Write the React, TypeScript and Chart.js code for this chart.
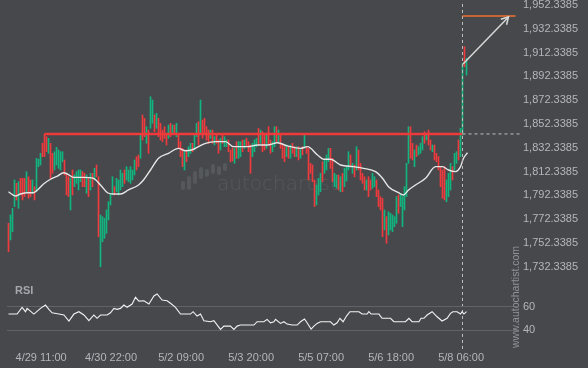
import { useEffect, useRef } from "react";
import { Chart, registerables } from "chart.js";
Chart.register(...registerables);

// ---- candle data (hourly), index 0..229 ----
const highs = [
  1768.9, 1775.9, 1781.5, 1805.3, 1802.5, 1803.9, 1806.7, 1806.7, 1806.7, 1812.3,
  1808.0, 1805.3, 1805.3, 1799.7, 1823.5, 1822.7, 1827.7, 1836.1, 1844.0, 1841.7,
  1840.3, 1836.1, 1827.7, 1829.1, 1832.8, 1830.5, 1829.1, 1829.1, 1822.1, 1810.9,
  1808.0, 1806.7, 1813.7, 1809.5, 1812.3, 1813.7, 1813.7, 1812.3, 1810.9, 1809.5,
  1806.7, 1810.9, 1810.9, 1815.1, 1817.9, 1808.0, 1775.9, 1774.5, 1773.1, 1780.1,
  1787.0, 1794.1, 1808.0, 1799.7, 1806.7, 1805.3, 1813.7, 1810.9, 1813.7, 1816.5,
  1813.7, 1816.5, 1813.7, 1822.1, 1824.9, 1826.3, 1844.5, 1859.9, 1857.1, 1850.1,
  1847.3, 1875.3, 1872.5, 1859.9, 1861.3, 1857.1, 1852.9, 1847.3, 1850.1, 1844.5,
  1851.5, 1852.9, 1851.5, 1851.5, 1852.9, 1843.1, 1837.5, 1831.9, 1829.1, 1830.5,
  1833.3, 1836.1, 1836.1, 1844.5, 1852.9, 1854.3, 1872.5, 1855.7, 1857.1, 1850.1,
  1847.3, 1847.3, 1847.3, 1841.7, 1844.5, 1838.9, 1840.3, 1844.5, 1841.7, 1838.9,
  1838.9, 1830.5, 1832.2, 1831.9, 1837.5, 1837.5, 1837.5, 1838.9, 1838.9, 1840.3,
  1837.5, 1834.7, 1836.1, 1838.9, 1840.3, 1848.7, 1847.3, 1845.9, 1843.1, 1844.5,
  1850.1, 1838.9, 1837.5, 1850.1, 1850.1, 1847.3, 1843.1, 1834.7, 1833.3, 1834.7,
  1833.3, 1834.7, 1836.1, 1833.3, 1833.3, 1833.3, 1831.9, 1833.3, 1844.5, 1833.3,
  1831.9, 1819.3, 1817.9, 1805.3, 1801.1, 1806.7, 1810.9, 1820.6, 1822.1, 1826.3,
  1831.9, 1831.9, 1823.5, 1810.9, 1809.5, 1809.5, 1808.0, 1810.9, 1815.1, 1817.0,
  1829.1, 1826.3, 1819.3, 1817.9, 1833.3, 1830.5, 1819.3, 1810.9, 1808.0, 1805.3,
  1808.0, 1805.3, 1810.9, 1808.0, 1805.3, 1796.9, 1791.3, 1789.9, 1780.1, 1774.5,
  1778.7, 1777.3, 1775.9, 1774.5, 1791.3, 1792.7, 1794.1, 1791.3, 1799.7, 1819.3,
  1850.1, 1850.1, 1836.1, 1830.5, 1834.7, 1833.3, 1836.1, 1841.7, 1845.9, 1844.5,
  1847.3, 1838.9, 1834.7, 1834.7, 1827.7, 1824.9, 1816.5, 1813.7, 1816.5, 1805.3,
  1810.9, 1819.3, 1816.5, 1827.7, 1829.1, 1838.9, 1848.7, 1903.3, 1917.3, 1907.5,
];
const lows = [
  1745.0, 1754.9, 1761.8, 1782.9, 1788.5, 1781.5, 1792.7, 1788.5, 1791.3, 1795.5,
  1789.9, 1791.3, 1794.1, 1788.5, 1795.5, 1816.5, 1817.9, 1824.9, 1824.9, 1829.1,
  1827.7, 1806.7, 1810.9, 1813.7, 1817.9, 1815.1, 1813.7, 1820.6, 1809.5, 1792.7,
  1791.3, 1780.1, 1792.7, 1799.7, 1802.5, 1796.9, 1803.9, 1799.7, 1799.7, 1794.1,
  1791.3, 1796.9, 1799.7, 1805.3, 1808.0, 1757.6, 1732.4, 1753.4, 1756.3, 1760.5,
  1771.7, 1784.3, 1792.7, 1792.7, 1795.5, 1792.7, 1796.9, 1799.7, 1802.5, 1805.3,
  1803.9, 1802.5, 1805.3, 1809.5, 1813.7, 1816.5, 1823.5, 1838.9, 1841.7, 1836.1,
  1827.7, 1848.7, 1852.9, 1845.9, 1848.7, 1841.7, 1838.9, 1837.5, 1840.3, 1834.7,
  1840.3, 1841.7, 1844.5, 1844.5, 1841.7, 1831.9, 1824.9, 1816.5, 1813.7, 1820.6,
  1824.9, 1827.7, 1829.1, 1830.5, 1841.7, 1834.7, 1844.5, 1840.3, 1844.5, 1838.9,
  1836.1, 1840.3, 1836.1, 1834.7, 1836.1, 1827.7, 1830.5, 1836.1, 1833.3, 1833.3,
  1829.1, 1820.6, 1821.2, 1819.3, 1823.5, 1823.5, 1824.9, 1829.1, 1831.9, 1833.3,
  1829.1, 1810.9, 1824.9, 1829.1, 1833.3, 1834.7, 1836.1, 1829.1, 1830.5, 1831.9,
  1834.7, 1827.7, 1829.1, 1833.3, 1837.5, 1837.5, 1831.9, 1823.5, 1820.6, 1824.9,
  1823.5, 1823.5, 1827.7, 1824.9, 1824.9, 1822.1, 1823.5, 1826.3, 1831.9, 1827.7,
  1805.3, 1810.9, 1803.9, 1782.9, 1784.3, 1792.7, 1795.5, 1803.9, 1810.9, 1813.7,
  1820.6, 1815.1, 1803.9, 1799.7, 1798.3, 1796.9, 1795.5, 1795.5, 1799.7, 1804.4,
  1813.7, 1816.5, 1810.9, 1808.0, 1813.7, 1813.7, 1805.3, 1802.5, 1796.9, 1796.9,
  1791.3, 1796.9, 1798.3, 1799.7, 1791.3, 1782.9, 1780.1, 1757.6, 1763.3, 1752.1,
  1759.1, 1763.3, 1761.8, 1766.1, 1768.9, 1777.3, 1782.9, 1766.1, 1780.1, 1791.3,
  1819.3, 1823.5, 1822.1, 1816.5, 1824.9, 1826.3, 1827.7, 1830.5, 1836.1, 1838.9,
  1834.7, 1830.5, 1829.1, 1822.1, 1820.6, 1813.7, 1799.7, 1789.9, 1788.5, 1787.0,
  1791.3, 1796.9, 1805.3, 1813.7, 1819.3, 1822.1, 1824.9, 1843.1, 1900.5, 1893.5,
];
// u = up (green), d = down (red)
const directions = [
  "duuududddu", "dduduuuddd", "udduuuuudd", "duduuuuddu", "dududduuuu",
  "uuuduuuudu", "uuuudduddu", "duududdddd", "udududddud", "uuduududdd",
  "dududduduu", "ddduduudud", "dduuududdu", "dduududddu", "duddududud",
  "dddduuuduu", "udduududuu", "udududdddu", "dduuddddud", "uuuuuduuuu",
  "udduduuudu", "dduddddddu", "uuduuduudu",
].join("");

// moving average (sampled along the candles)
const maIdx = [0, 3.5, 6, 9.5, 12.5, 14.5, 17.5, 21, 24.5, 27.5, 29.5, 32.5, 37.5, 42.5, 46, 49.5, 52.5, 56, 60, 65, 67.5, 71, 75, 80, 85, 88.5, 91.5, 95, 98.5, 103.5, 108.5, 112.5, 119.5, 124.5, 129.5, 134.5, 139.5, 146, 149.5, 154.5, 157.5, 161, 166, 172.5, 177.5, 183.5, 187, 190, 195, 197.5, 200, 203.5, 208.5, 213.5, 217, 220, 223.5, 226, 227.5, 229.5];
const maVal = [1795.4, 1791.8, 1793.5, 1794.6, 1794.6, 1796.9, 1801.9, 1805.9, 1808.6, 1811.4, 1810.3, 1807.5, 1807.5, 1806.7, 1801.1, 1794.6, 1793.5, 1793.5, 1796.9, 1801.1, 1805.3, 1813.7, 1823.5, 1827.7, 1831.9, 1829.9, 1830.5, 1833.3, 1836.1, 1837.5, 1837.5, 1833.3, 1833.3, 1834.7, 1834.7, 1836.6, 1833.9, 1831.9, 1833.3, 1826.3, 1822.7, 1822.7, 1817.9, 1816.5, 1815.1, 1812.3, 1806.7, 1799.6, 1794.6, 1792.7, 1796.9, 1801.1, 1806.7, 1816.5, 1816.5, 1813.7, 1812.3, 1816.5, 1823.5, 1828.2];

// RSI
const rsiIdx = [0, 4.3, 6.8, 8.5, 9.3, 12.7, 16, 18.5, 20.2, 21.8, 25.2, 27.7, 30.2, 32.7, 35.2, 37.7, 40.2, 42.7, 44.3, 46, 49.3, 51, 52.7, 54.3, 56, 57.7, 59.3, 61.8, 63.5, 65.2, 67.7, 70.2, 72.7, 74.3, 76.8, 79.3, 81, 83.5, 86, 88.5, 91, 92.3, 94.3, 96, 97.7, 101, 102.7, 106, 107.7, 111, 112.7, 114.3, 116, 122.7, 124.3, 127.7, 129.3, 131, 132.7, 133.5, 136, 137.7, 139.3, 141.8, 144.3, 146, 148, 149.3, 151.3, 152.7, 154.3, 156, 161, 162.7, 164.3, 165.7, 167.3, 169, 170.7, 175.2, 176.8, 179.3, 180.2, 181.3, 185.2, 186.8, 191, 192.7, 198.5, 200.2, 201.8, 205.2, 206.3, 207.7, 209.3, 211.8, 214.3, 216.8, 219.3, 221, 222.2, 224.3, 226, 226.8, 227.7, 229];
const rsiVal = [53.8, 53.8, 59.5, 55.8, 58.6, 53.8, 58.6, 61.4, 57.8, 54.9, 53.8, 53, 47.9, 53.8, 55.8, 53, 48.2, 53, 50.2, 53, 53, 54.9, 58.6, 57.8, 58.6, 61.4, 59.5, 62.3, 68, 64.8, 65.1, 62.3, 69.1, 70.8, 65.7, 65.1, 62.9, 59.5, 53.8, 53.8, 53.8, 55.8, 52.1, 53.8, 48.2, 47.3, 48.2, 40.8, 43.6, 43.6, 40.8, 43.6, 44.5, 44.5, 47.3, 47.3, 49.3, 46.4, 47.3, 49.3, 45.9, 47.3, 45.3, 44.5, 44.5, 47.3, 49.6, 46.4, 41.1, 43.6, 45.9, 47.3, 47.3, 44.5, 46.4, 50.2, 47.3, 52.1, 55.8, 55.8, 53.8, 53.8, 55.8, 53.8, 53.8, 50.2, 50.2, 47.3, 47.3, 50.2, 47.3, 47.3, 50.2, 50.2, 53, 55.8, 51.5, 47.9, 50.2, 54.4, 55.8, 55.8, 53.8, 55.8, 53.8, 55.8];

// axes
const priceTicks = [1952.3385, 1932.3385, 1912.3385, 1892.3385, 1872.3385, 1852.3385, 1832.3385, 1812.3385, 1792.3385, 1772.3385, 1752.3385, 1732.3385];
const rsiTicks = [40, 60];
const timeTickIdx = [16.3, 51.3, 86.3, 121.3, 156.3, 191.3, 226.3];
const timeLabels = ["4/29 11:00", "4/30 22:00", "5/2 09:00", "5/3 20:00", "5/5 07:00", "5/6 18:00", "5/8 06:00"];

// pattern annotations (data units)
const breakoutLevel = 1844.0;
const breakoutStartIdx = 18;
const signalIdx = 227;
const extendIdx = 257;
const targetLevel = 1943.1;
const targetEndIdx = 253.5;
const arrowFrom = [227.25, 1902.8];
const arrowTo = [250, 1942.3];
const arrowHeadA = [246.15, 1940.4];
const arrowHeadB = [249.05, 1935.7];

const BG = "#46484b";
const GREEN = "#12b57f";
const RED = "#f03b3e";
const TICK = "#b3b6ba";
const FONT = '"Liberation Sans", Arial, sans-serif';

const X_MIN = -0.75;
const X_MAX = 254.25;
const P_MIN = 1662.43;
const P_MAX = 1956.54;

const fmt = (v: number) =>
  v.toLocaleString("en-US", { minimumFractionDigits: 4, maximumFractionDigits: 4 });

const watermark = {
  id: "watermark",
  beforeDatasetsDraw(chart: any) {
    const { ctx, chartArea } = chart;
    const cx = (chartArea.left + chartArea.right) / 2;
    const x0 = cx - 45;
    const base = chartArea.top + 190;
    ctx.save();
    ctx.fillStyle = "#56595c";
    const bars = [[-34, -9, 0], [-28, -14, 0], [-22, -19, -6], [-16, -23, -11], [-10, -21, -13], [-4, -26, -16], [2, -24, -15], [8, -27, -19]];
    for (const [dx, t, b] of bars) {
      ctx.beginPath();
      (ctx as any).roundRect(x0 + dx - 2, base + t, 4, b - t, 2);
      ctx.fill();
    }
    ctx.font = '200 20px "DejaVu Sans", sans-serif';
    ctx.textBaseline = "alphabetic";
    ctx.textAlign = "left";
    ctx.fillText("autochartist", x0, base);
    ctx.restore();
  },
};

const overlayText = {
  id: "overlayText",
  afterDraw(chart: any) {
    const { ctx, chartArea } = chart;
    ctx.save();
    ctx.fillStyle = "#a4a7ab";
    ctx.font = `bold 11px ${FONT}`;
    ctx.textBaseline = "middle";
    ctx.textAlign = "left";
    ctx.fillText("RSI", chartArea.left + 8, chartArea.top + 6);
    ctx.translate(chartArea.right - 1, chartArea.bottom + 3);
    ctx.rotate(-Math.PI / 2);
    ctx.fillStyle = "#8f9297";
    ctx.font = `10.5px ${FONT}`;
    ctx.fillText("www.autochartist.com", 0, 0);
    ctx.restore();
  },
};

const line = (pts: number[][], color: string, width: number, extra: any = {}) => ({
  type: "line",
  data: pts.map(([x, y]) => ({ x, y })),
  borderColor: color,
  borderWidth: width,
  pointRadius: 0,
  fill: false,
  ...extra,
});

export default function App() {
  const ref1 = useRef<HTMLCanvasElement>(null);
  const ref2 = useRef<HTMLCanvasElement>(null);

  useEffect(() => {
    document.body.style.margin = "0";
    const candleData = highs.map((h, i) => ({ x: i, y: [lows[i], h] }));
    const maData = maIdx.map((x, i) => [x, maVal[i]]);

    const c1 = new Chart(ref1.current as HTMLCanvasElement, {
      type: "bar",
      data: {
        datasets: [
          line([arrowFrom, arrowTo], "#d8d8d8", 1.5, { order: 0 }),
          line([arrowHeadA, arrowTo, arrowHeadB], "#d8d8d8", 1.5, { order: 0 }),
          line([[signalIdx, targetLevel], [targetEndIdx, targetLevel]], "#f0712f", 1.5, { order: 0 }),
          line([[signalIdx, P_MAX - 3.3], [signalIdx, P_MIN]], "#bfbfbf", 1, { borderDash: [3, 3], order: 0 }),
          line([[signalIdx, breakoutLevel], [extendIdx, breakoutLevel]], "#bfbfbf", 1, { borderDash: [3, 3], clip: false, order: 0 }),
          line([[breakoutStartIdx, breakoutLevel], [signalIdx, breakoutLevel]], "#ee3a3b", 2.5, { order: 1 }),
          line(maData, "#e6e6e6", 1.4, { cubicInterpolationMode: "monotone", order: 2 }),
          {
            type: "bar",
            data: candleData,
            backgroundColor: (c: any) => (directions[c.dataIndex] === "u" ? GREEN : RED),
            barThickness: 1,
            borderWidth: 0,
            grouped: false,
            order: 5,
          },
        ] as any,
      },
      options: {
        responsive: false,
        animation: false,
        devicePixelRatio: 1,
        layout: { padding: { left: 7, right: 0, top: 0, bottom: 18 } },
        plugins: { legend: { display: false }, tooltip: { enabled: false } },
        scales: {
          x: { type: "linear", min: X_MIN, max: X_MAX, offset: false, display: false, grid: { offset: false } },
          y: {
            position: "right",
            min: P_MIN,
            max: P_MAX,
            afterFit: (s: any) => { s.width = 71; s.paddingTop = 0; s.paddingBottom = 0; },
            afterBuildTicks: (s: any) => { s.ticks = priceTicks.map((v) => ({ value: v })); },
            ticks: { color: TICK, font: { family: FONT, size: 11 }, padding: 6, callback: (v: any) => fmt(Number(v)) },
            grid: { display: false, drawTicks: false },
            border: { display: false },
          },
        },
      } as any,
      plugins: [watermark],
    });

    const c2 = new Chart(ref2.current as HTMLCanvasElement, {
      type: "line",
      data: {
        datasets: [
          {
            data: rsiIdx.map((x, i) => ({ x, y: rsiVal[i] })),
            borderColor: "#f2f2f2",
            borderWidth: 1.1,
            pointRadius: 0,
            fill: false,
          },
        ],
      },
      options: {
        responsive: false,
        animation: false,
        devicePixelRatio: 1,
        layout: { padding: { left: 7, right: 0, top: 285, bottom: 0 } },
        plugins: { legend: { display: false }, tooltip: { enabled: false } },
        scales: {
          x: {
            type: "linear",
            min: X_MIN,
            max: X_MAX,
            offset: false,
            afterFit: (s: any) => { s.height = 23; s.paddingLeft = 0; s.paddingRight = 0; },
            afterBuildTicks: (s: any) => { s.ticks = timeTickIdx.map((v) => ({ value: v })); },
            ticks: {
              color: TICK,
              font: { family: FONT, size: 11 },
              padding: 6,
              autoSkip: false,
              maxRotation: 0,
              callback: (_v: any, i: number) => timeLabels[i],
            },
            grid: { display: false, drawTicks: false },
            border: { display: false },
          },
          y: {
            position: "right",
            min: 27.6,
            max: 78.4,
            afterFit: (s: any) => { s.width = 71; s.paddingTop = 0; s.paddingBottom = 0; },
            afterBuildTicks: (s: any) => { s.ticks = rsiTicks.map((v) => ({ value: v })); },
            ticks: { color: TICK, font: { family: FONT, size: 11 }, padding: 6 },
            grid: { color: "#606367", lineWidth: 1, drawTicks: false },
            border: { display: false },
          },
        },
      } as any,
      plugins: [overlayText],
    });

    return () => {
      c1.destroy();
      c2.destroy();
    };
  }, []);

  return (
    <div style={{ position: "fixed", left: 0, top: 0, width: 588, height: 368, background: BG, overflow: "hidden" }}>
      <canvas ref={ref1} width={588} height={368} style={{ position: "absolute", left: 0, top: 0 }} />
      <canvas ref={ref2} width={588} height={368} style={{ position: "absolute", left: 0, top: 0 }} />
    </div>
  );
}
